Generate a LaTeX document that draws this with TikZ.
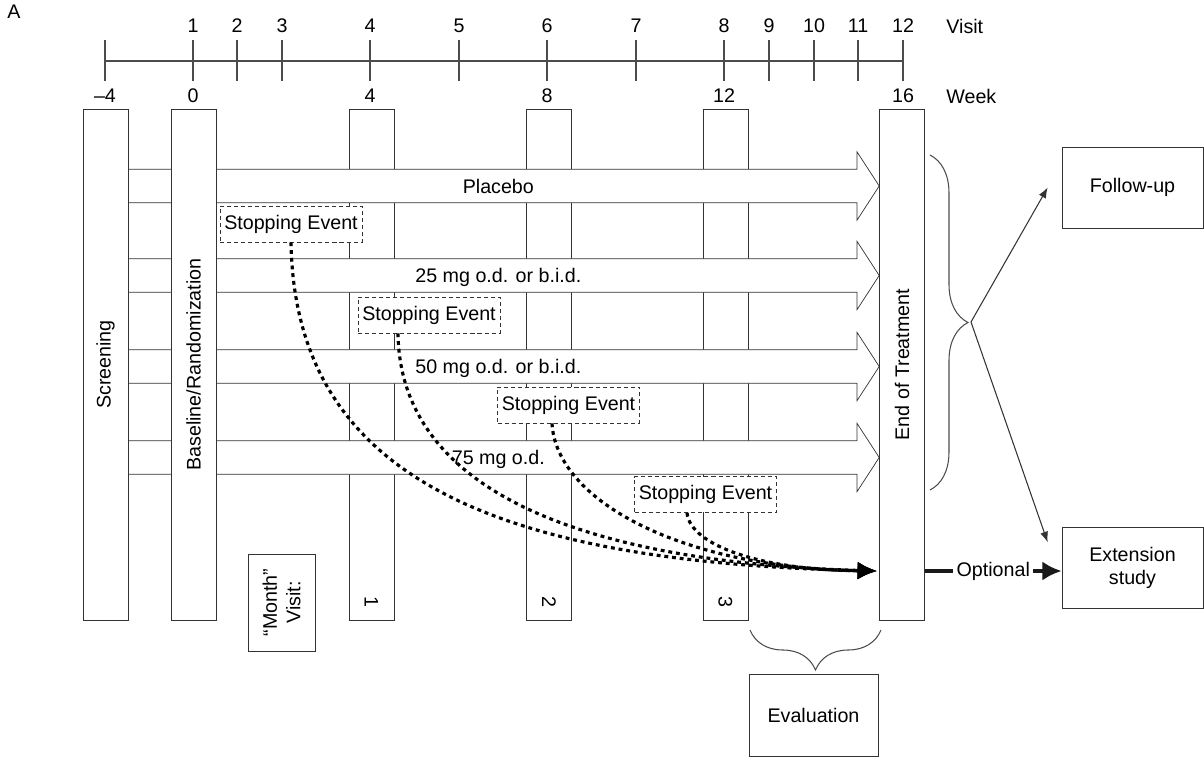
\documentclass[tikz,border=0pt]{standalone}
\usepackage{fontspec}
\setmainfont{Liberation Sans}
\usetikzlibrary{arrows.meta,
                shapes.arrows,
                decorations.pathreplacing,
                positioning}
\tikzset{
    bar/.style = {rectangle, draw=black!80, fill=white, rotate=90,
                  minimum width=10.22cm, minimum height=0.9cm, inner sep=0pt},
    band/.style = {single arrow, draw=black!80, fill=white, anchor=tail,
                   minimum height=15.02cm, single arrow head extend=9.9pt,
                   single arrow tip angle=114, inner xsep=0pt, inner ysep=4.1pt,
                   text height=9.25pt, text depth=1.25pt},
    stopbox/.style = {rectangle, draw=black!80, dash pattern=on 2.3pt off 1.7pt,
                      fill=white, minimum width=2.84cm, minimum height=0.72cm, inner sep=0pt},
    block/.style = {rectangle, draw=black!80, fill=white, minimum width=2.82cm,
                    minimum height=1.62cm, align=center},
    monthno/.style = {rotate=-90, anchor=east, inner xsep=7pt, inner ysep=0pt},
    tick/.style = {draw=black!70, line width=0.6pt},
    stopline/.style = {draw, line width=1.8pt, dash pattern=on 2.2pt off 2.2pt,
                       -{Latex[length=11pt, width=10pt]}},
    line/.style = {draw=black!80, line width=0.6pt, -{Latex[length=6pt, width=4.5pt]}},
    optline/.style = {draw=black!90, line width=2.2pt, -{Latex[length=11pt, width=11pt]}},
    brace/.style = {draw=black!70, line width=0.6pt, decorate}
}

\begin{document}
\begin{tikzpicture}[x=0.02cm, y=-0.02cm, font=\fontsize{11.2}{13.4}\selectfont]
\useasboundingbox (0,0) rectangle (1204,760);
\node (panel) at (14,12) {A};
% time line
\draw[tick] (105,61) -- (903,61);
\draw[tick] (105,40) -- (105,81);
\foreach \v/\x in {1/193,2/237,3/282,4/370,5/459,6/547,7/636,8/724,9/769,10/814,11/858,12/903}{
    \draw[tick] (\x,40) -- (\x,81);
    \node at (\x,26) {\v};
}
\foreach \w/\x in {\textendash4/105,0/193,4/370,8/547,12/724,16/903}
    \node at (\x,96) {\w};
\node[anchor=west, inner sep=0pt] (visit) at (946,26) {Visit};
\node[anchor=west, inner sep=0pt] (week) at (946,96) {Week};
% month visits
\node[bar] (wk4) at (371.5,364.5) {};
\node[bar] (wk8) at (549,364.5) {};
\node[bar] (wk12) at (725.5,364.5) {};
\node[monthno] at (wk4.west) {1};
\node[monthno] at (wk8.west) {2};
\node[monthno] at (wk12.west) {3};
% treatment arms
\node[band] (placebo) at (128,186) {Placebo};
\node[band] (dose25) at (128,275.5) {25 mg o.d. or b.i.d.};
\node[band] (dose50) at (128,366.5) {50 mg o.d. or b.i.d.};
\node[band] (dose75) at (128,457.5) {75 mg o.d.};
\node[bar] (screen) at (105.5,364.5) {Screening};
\node[bar] (base) at (193.5,364.5) {Baseline/Randomization};
\node[bar] (eot) at (902,364.5) {End of Treatment};
\node[draw=black!80, rotate=90, align=center, minimum width=1.94cm,
      minimum height=1.34cm, inner sep=0pt] (month) at (281.5,602.5) {“Month”\\Visit:};
% stopping events
\node[stopbox] (stop1) at (291,224) {Stopping Event};
\node[stopbox] (stop2) at (429,315) {Stopping Event};
\node[stopbox] (stop3) at (568.5,405) {Stopping Event};
\node[stopbox] (stop4) at (705.5,494.5) {Stopping Event};
\coordinate (conv) at (877,571);
\draw[stopline] (stop1.south) .. controls (295,475) and (490,562) .. (conv);
\draw[stopline] ([xshift=-0.62cm]stop2.south) .. controls (400,490) and (580,562) .. (conv);
\draw[stopline] ([xshift=-0.33cm]stop3.south) .. controls (556,500) and (680,568) .. (conv);
\draw[stopline] ([xshift=-0.37cm]stop4.south) .. controls (690,545) and (760,570) .. (conv);
% after treatment
\node[block] (followup) at (1132.5,187.5) {Follow-up};
\node[block, below=5.98cm of followup] (ext) {Extension\\study};
\node[block, minimum width=2.58cm, minimum height=1.64cm] (eval) at (813.5,715) {Evaluation};
\draw[brace, decoration={brace, amplitude=0.76cm}] (930,155) -- (930,490);
\coordinate (split) at (971,322);
\draw[brace, decoration={brace, amplitude=0.8cm}] (881,630) -- (750,630);
\draw[line] (split) -- ([xshift=-0.28cm]followup.west);
\draw[line] (split) -- ([xshift=-0.28cm, yshift=-0.3cm]ext.north west);
\draw[optline] (eot.south |- conv) -- node[fill=white, inner sep=2pt] {Optional} (ext.west |- conv);
\end{tikzpicture}
\end{document}
